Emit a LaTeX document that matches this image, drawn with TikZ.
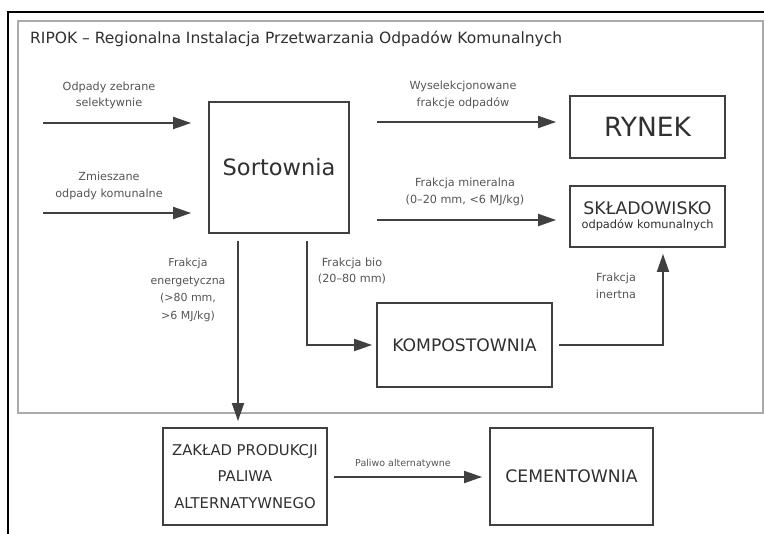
\documentclass[tikz,border=0pt]{standalone}
\usepackage{fontspec}
\setmainfont{DejaVu Sans}
\usetikzlibrary{arrows.meta}
\definecolor{boxc}{HTML}{404040}
\definecolor{txtc}{HTML}{303030}
\definecolor{lblc}{HTML}{555555}
\definecolor{framec}{HTML}{AAAAAA}
\tikzset{
  box/.style={draw=boxc, line width=1.8pt, text=txtc, inner sep=0pt, align=center},
  flow/.style={draw=boxc, line width=1.8pt, -{Triangle[length=18pt,width=12pt]}},
  lbl/.style={text=lblc, font=\fontsize{11.2}{16.5}\selectfont, align=center, inner sep=0pt},
}
\begin{document}
\begin{tikzpicture}[x=1pt,y=-1pt]
\useasboundingbox (0,0) rectangle (764,534);
\fill[white] (0,0) rectangle (764,534);
% frames
\draw[black, line width=1.3pt] (8,534) -- (8,12) -- (764,12);
\draw[framec, line width=1.6pt] (18,21) rectangle (763,413);
\node[anchor=west, text=txtc, font=\fontsize{15.5}{18}\selectfont, inner sep=0pt] (title) at (30,39) {RIPOK – Regionalna Instalacja Przetwarzania Odpadów Komunalnych};
% boxes
\node[box, minimum width=140pt, minimum height=131pt, font=\fontsize{22.5}{26}\selectfont] (sort) at (279,167.5) {Sortownia};
\node[box, minimum width=155pt, minimum height=62pt, font=\fontsize{26.5}{30}\selectfont] (rynek) at (647.5,127) {RYNEK};
\node[box, minimum width=155pt, minimum height=61pt] (skl) at (647.5,216.5) {{\fontsize{17.3}{21}\selectfont SKŁADOWISKO}\\[2pt]{\fontsize{11.4}{13}\selectfont odpadów komunalnych}};
\node[box, minimum width=175pt, minimum height=84pt, font=\fontsize{17.2}{20}\selectfont] (komp) at (464.5,345) {KOMPOSTOWNIA};
\node[box, minimum width=164pt, minimum height=97pt, font=\fontsize{14.8}{26.5}\selectfont] (zakl) at (245,476.5) {ZAKŁAD PRODUKCJI\\PALIWA\\ALTERNATYWNEGO};
\node[box, minimum width=163pt, minimum height=97pt, font=\fontsize{17.2}{21}\selectfont] (cem) at (571.5,476.5) {CEMENTOWNIA};
% free ends
\coordinate (in1) at (43,123);
\coordinate (in2) at (43,213);
\coordinate (outr) at (377,122);
\coordinate (outs) at (377,220);
\coordinate (ene) at (238,241);
\coordinate (bio) at (307,241);
\coordinate (inert) at (663,346);
% connectors
\draw[flow, shorten >=17pt] (in1) -- (in1 -| sort.west);
\draw[flow, shorten >=17pt] (in2) -- (in2 -| sort.west);
\draw[flow, shorten >=13pt] (outr) -- (outr -| rynek.west);
\draw[flow, shorten >=13pt] (outs) -- (outs -| skl.west);
\draw[flow, shorten >=6pt] (ene) -- (ene |- zakl.north);
\draw[flow, shorten >=4pt] (bio) |- (komp.west);
\draw[flow, shorten <=6pt, shorten >=6pt] (komp.east) -| (inert |- skl.south);
\draw[flow, shorten <=6pt, shorten >=7pt] (zakl.east |- 0,477) -- (cem.west |- 0,477);
% labels
\node[lbl] (l1) at (109,95.5) {Odpady zebrane\\selektywnie};
\node[lbl] (l2) at (109,186) {Zmieszane\\odpady komunalne};
\node[lbl] (l3) at (463,95) {Wyselekcjonowane\\frakcje odpadów};
\node[lbl] (l4) at (465,192) {Frakcja mineralna\\(0–20 mm, <6 MJ/kg)};
\node[lbl, font=\fontsize{11}{17.7}\selectfont] (l5) at (188,290) {Frakcja\\energetyczna\\(>80 mm,\\>6 MJ/kg)};
\node[lbl] (l6) at (352,271) {Frakcja bio\\(20–80 mm)};
\node[lbl] (l7) at (616,286) {Frakcja\\inertna};
\node[lbl, font=\fontsize{9.5}{11}\selectfont] (l8) at (403,464) {Paliwo alternatywne};
\end{tikzpicture}
\end{document}
